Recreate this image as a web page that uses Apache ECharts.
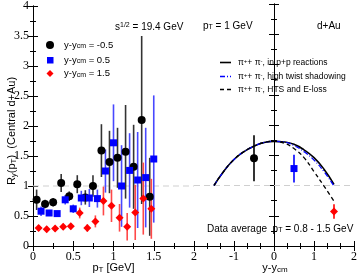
<!DOCTYPE html>
<html><head><meta charset="utf-8">
<script src="https://cdn.jsdelivr.net/npm/echarts@6/dist/echarts.min.js"></script>
<style>html,body{margin:0;padding:0;background:#fff}#c{width:360px;height:277px}</style>
</head><body><div id="c"></div>
<script>
// ---- Left panel data: [pT, R, error] ----
const blackPts = [[0.045,0.77,0.17],[0.15,0.70,0.07],[0.25,0.73,0.07],[0.35,1.05,0.15],[0.45,0.83,0.08],[0.55,1.03,0.15],[0.65,0.81,0.12],[0.745,1.00,0.18],[0.85,1.59,0.44],[0.95,1.40,0.52],[1.05,1.47,0.50],[1.15,1.57,0.78],[1.25,1.32,0.70],[1.35,2.10,1.40],[1.45,0.82,0.65]];
const bluePts = [[0.10,0.58,0.08],[0.20,0.55,0.05],[0.30,0.54,0.04],[0.40,0.77,0.08],[0.50,0.62,0.07],[0.60,0.80,0.12],[0.70,0.80,0.15],[0.80,0.79,0.15],[0.90,1.25,0.36],[1.00,1.72,0.64],[1.10,1.00,0.68],[1.20,1.26,0.62],[1.30,1.10,0.80],[1.40,1.14,0.83],[1.50,1.45,1.06]];
const redPts = [[0.07,0.30,0.05],[0.17,0.28,0.05],[0.275,0.29,0.05],[0.375,0.32,0.05],[0.47,0.33,0.05],[0.58,0.55,0.09],[0.675,0.30,0.06],[0.775,0.41,0.10],[0.875,0.75,0.24],[0.975,0.67,0.27],[1.075,0.47,0.23],[1.17,0.32,0.23],[1.27,0.56,0.46],[1.37,0.79,0.60],[1.47,0.62,0.50]];
// ---- Right panel: theory curves vs y-ycm ----
const curveX = [-1.5,-1.25,-1,-0.75,-0.5,-0.25,0,0.25,0.5,0.75,1,1.25,1.5];
const ppCurve = [1.00,1.24,1.43,1.56,1.65,1.71,1.73,1.72,1.68,1.59,1.46,1.27,1.02];
const htsCurve = [1.00,1.24,1.43,1.56,1.65,1.71,1.73,1.72,1.66,1.56,1.42,1.23,0.99];
const elossCurve = [1.00,1.24,1.43,1.56,1.65,1.71,1.73,1.70,1.61,1.46,1.23,0.99,0.74];
// averaged data [y-ycm, R, err]
const avgBlack = [[-0.5,1.45,0.38]];
const avgBlue = [[0.5,1.28,0.23]];
const avgRed = [[1.5,0.57,0.12]];
const refLine = 1;

const chart = echarts.init(document.getElementById('c'), null, {renderer:'canvas'});
const serif = "'Liberation Serif', 'Times New Roman', serif";
const sans = "'Liberation Sans', Arial, sans-serif";

function errSeries(data, color, xi, yi){
  return {type:'custom', xAxisIndex:xi, yAxisIndex:yi, clip:true, z:2,
    encode:{x:0,y:1}, data:data,
    renderItem:function(params, api){
      const x=api.value(0), y=api.value(1), e=api.value(2);
      const p1=api.coord([x, Math.max(0,y-e)]);
      const p2=api.coord([x, Math.min(4,y+e)]);
      return {type:'line', shape:{x1:p1[0],y1:p1[1],x2:p2[0],y2:p2[1]}, style:{stroke:color, lineWidth:1.6}};
    }};
}
function markSeries(data, color, symbol, size, xi, yi){
  return {type:'scatter', xAxisIndex:xi, yAxisIndex:yi, z:3, symbol:symbol, symbolSize:size,
    itemStyle:{color:color, opacity:1}, data:data.map(d=>[d[0],d[1]])};
}
function curve(ys, color, type, width){
  return {type:'line', xAxisIndex:2, yAxisIndex:2, smooth:true, symbol:'none', z:2,
    lineStyle:{color:color, type:type, width:width}, data:curveX.map((x,i)=>[x,ys[i]])};
}
const tickStyle = {show:true, inside:true, length:5, lineStyle:{color:'#000'}};
const minorStyle = (n)=>({show:true, splitNumber:n, length:3, lineStyle:{color:'#000'}});
const lineSt = {show:true, lineStyle:{color:'#000', width:1}};
function xAx(grid, pos, min, max, interval, minorN, labels, fmt){
  return {type:'value', gridIndex:grid, position:pos, min:min, max:max, interval:interval,
    axisLine:lineSt, axisTick:tickStyle, minorTick:minorStyle(minorN), splitLine:{show:false},
    axisLabel:{show:labels, color:'#000', fontFamily:serif, fontSize:12, margin:5, formatter:fmt}};
}
function yAx(grid, pos, labels){
  return {type:'value', gridIndex:grid, position:pos, min:0, max:4, interval:0.5,
    axisLine:lineSt, axisTick:tickStyle, minorTick:minorStyle(2), splitLine:{show:false},
    axisLabel:{show:labels, color:'#000', fontFamily:serif, fontSize:12, margin:4, formatter:v=>String(v)}};
}
const sub = {fontFamily:sans, verticalAlign:'bottom', lineHeight:8, padding:[3,0,0,0], fill:'#000'};
const sup = {fontFamily:sans, verticalAlign:'top', lineHeight:8, padding:[0,0,3,0], fill:'#000'};

function txt(x, y, text, size, extra){
  return Object.assign({type:'text', x:x, y:y, z:10, style:Object.assign({text:text, fill:'#000', font:size+'px '+sans,
    rich:{sub:Object.assign({}, sub, {fontSize:Math.round(size*0.7)}), sup:Object.assign({}, sup, {fontSize:Math.round(size*0.7)}), n:{fontSize:size, fontFamily:sans, fill:'#000'}},
    verticalAlign:'middle'}, extra||{})});
}

const graphics = [
  txt(115, 27, '{n|s}{sup|1/2}{n| = 19.4 GeV}', 10),
  // left legend
  {type:'circle', shape:{cx:50, cy:45, r:4}, style:{fill:'#000'}, z:10},
  {type:'rect', shape:{x:47, y:57, width:6.5, height:6.5}, style:{fill:'#0000ff'}, z:10},
  {type:'polygon', shape:{points:[[50,70],[53.5,73.5],[50,77],[46.5,73.5]]}, style:{fill:'#ff0000'}, z:10},
  txt(64, 45, '{n|y-y}{sub|cm}{n| = -0.5}', 9.5),
  txt(64, 60, '{n|y-y}{sub|cm}{n| = 0.5}', 9.5),
  txt(64, 73.5, '{n|y-y}{sub|cm}{n| = 1.5}', 9.5),
  // right panel texts
  txt(203, 26, '{n|p}{sub|T}{n| = 1 GeV}', 10),
  txt(317, 26, 'd+Au', 10),
  {type:'line', shape:{x1:220, y1:62.5, x2:231, y2:62.5}, style:{stroke:'#000', lineWidth:1.6}, z:10},
  {type:'line', shape:{x1:220, y1:76.5, x2:231, y2:76.5}, style:{stroke:'#0000ff', lineWidth:1.3, lineDash:[5,2,1,2]}, z:10},
  {type:'line', shape:{x1:220, y1:89.5, x2:232, y2:89.5}, style:{stroke:'#000', lineWidth:1.3, lineDash:[4,3]}, z:10},
  txt(238, 62.5, '{n|π}{sup|+}{n|+ π}{sup|-}{n|, in p+p reactions}', 8.5),
  txt(238, 76.5, '{n|π}{sup|+}{n|+ π}{sup|-}{n|, high twist shadowing}', 8.5),
  txt(238, 89.5, '{n|π}{sup|+}{n|+ π}{sup|-}{n|, HTS and E-loss}', 8.5),
  txt(207, 229, '{n|Data average  p}{sub|T}{n| = 0.8 - 1.5 GeV}', 10),
  // axis titles
  txt(113.5, 268, '{n|p}{sub|T}{n| [GeV]}', 11, {align:'center'}),
  txt(275, 268, '{n|y-y}{sub|cm}', 11, {align:'center'}),
  Object.assign(txt(0, 0, '{n|R}{sub|y}{n|(p}{sub|T}{n|)  (Central d+Au)}', 11, {align:'center'}), {x:12, y:131, rotation:Math.PI/2})
];

const option = {
  animation:false,
  backgroundColor:'#fff',
  grid:[{left:33, top:4, width:161, height:242, show:false},
        {left:194, top:4, width:162, height:242, show:false}],
  xAxis:[
    xAx(0,'bottom',0,2,0.5,2,true,v=>String(v)),
    xAx(0,'top',0,2,0.5,2,false),
    xAx(1,'bottom',-2,2,1,3,true,v=>v===-2?'':String(v)),
    xAx(1,'top',-2,2,1,3,false)
  ],
  yAxis:[yAx(0,'left',true), yAx(0,'right',false), yAx(1,'left',false), yAx(1,'right',false)],
  graphic:graphics,
  series:[
    {type:'line', xAxisIndex:0, yAxisIndex:0, symbol:'none', z:1, data:[[0,refLine],[2,refLine]], lineStyle:{color:'#cfcfcf', type:[6,4], width:1.2}},
    {type:'line', xAxisIndex:2, yAxisIndex:2, symbol:'none', z:1, data:[[-2,refLine],[2,refLine]], lineStyle:{color:'#cfcfcf', type:[6,4], width:1.2}},
    errSeries(blackPts,'#333333',0,0),
    errSeries(bluePts,'#4848ff',0,0),
    errSeries(redPts,'#ff4848',0,0),
    markSeries(blackPts,'#000','circle',8,0,0),
    markSeries(bluePts,'#0000ff','rect',7,0,0),
    markSeries(redPts,'#ff0000','diamond',8,0,0),
    curve(ppCurve,'#000','solid',1.6),
    curve(htsCurve,'#0000ff',[5,2,1,2],1.3),
    curve(elossCurve,'#000',[4,3],1.3),
    errSeries(avgBlack,'#000',2,2),
    errSeries(avgBlue,'#0000ff',2,2),
    errSeries(avgRed,'#ff0000',2,2),
    markSeries(avgBlack,'#000','circle',8,2,2),
    markSeries(avgBlue,'#0000ff','rect',7,2,2),
    markSeries(avgRed,'#ff0000','diamond',8,2,2)
  ]
};
chart.setOption(option);
</script></body></html>
